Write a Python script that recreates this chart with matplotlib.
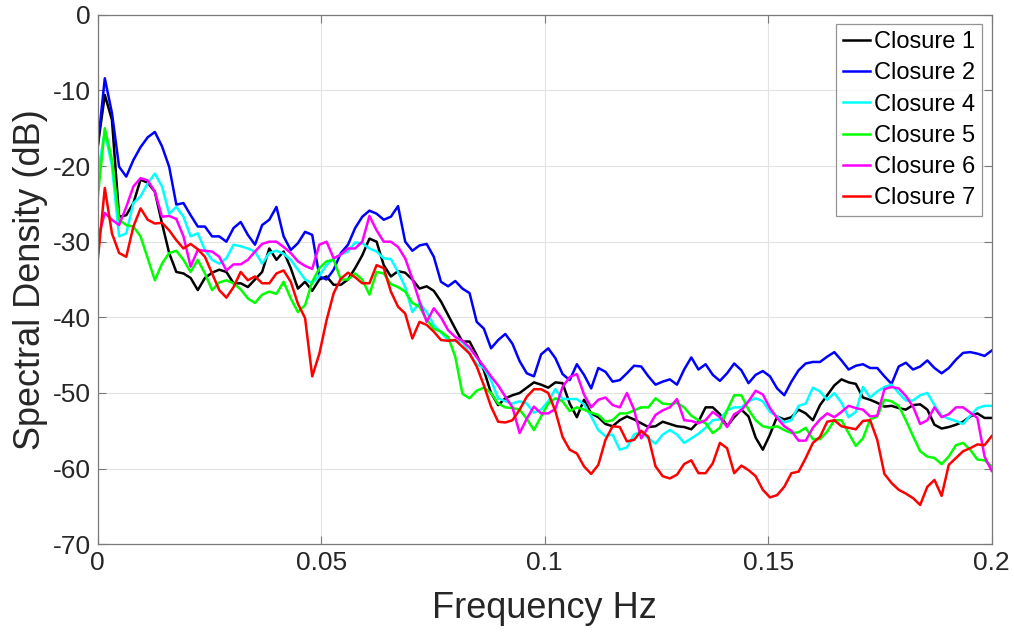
import numpy as np
import matplotlib
matplotlib.use("Agg")
import matplotlib.pyplot as plt

plt.rcParams['font.family'] = ['Liberation Sans', 'DejaVu Sans']
plt.rcParams['axes.unicode_minus'] = False

# frequency axis: 126 bins from 0 to 0.2 Hz
freq = np.linspace(0, 0.2, 126)

closure1 = [-17.5, -10.6, -13.9, -26.7, -26.5, -24.9, -21.8, -22.2, -23.4, -27.6, -31.5, -34.0, -34.2, -34.8, -36.4, -34.8, -34.1, -33.7, -34.0, -35.5, -35.5,
            -36.0, -35.0, -34.0, -30.9, -32.4, -31.3, -33.5, -36.2, -35.3, -36.5, -35.0, -34.6, -35.7, -35.7, -35.0, -33.5, -31.8, -29.6, -30.0, -33.1, -34.6, -33.9,
            -34.1, -35.0, -36.2, -35.9, -36.5, -37.9, -39.7, -41.5, -43.2, -43.2, -45.0, -47.0, -50.0, -51.6, -50.7, -50.3, -50.0, -49.3, -48.6, -48.9, -49.3, -48.6, -48.7,
            -51.4, -53.2, -50.9, -52.7, -53.2, -54.1, -54.4, -53.6, -53.1, -53.5, -54.0, -54.5, -54.4, -53.8, -54.1, -54.4, -54.5, -54.8,
            -53.8, -51.9, -51.9, -52.8, -54.4, -53.2, -52.2, -53.1, -55.9, -57.5, -55.5, -53.1, -53.5, -53.2, -52.2, -52.7, -53.6, -51.6, -50.3, -49.0, -48.2,
            -48.6, -48.8, -50.6, -50.9, -51.3, -51.8, -51.7, -52.0, -52.2, -51.6, -51.5, -52.2, -54.2, -54.7, -54.5, -54.2, -53.8, -53.1, -52.7, -53.3, -53.3]

closure2 = [-17.5, -8.4, -13.0, -20.1, -21.4, -19.2, -17.5, -16.2, -15.5, -17.4, -20.1, -25.1, -24.9, -26.5, -28.0, -28.0, -29.3, -29.3, -30.0, -28.2, -27.4,
            -29.1, -30.4, -27.8, -27.1, -25.4, -29.3, -31.1, -30.2, -28.7, -29.1, -34.6, -35.0, -33.7, -31.5, -30.4, -28.2, -26.7, -25.9, -26.3, -27.1, -26.7, -25.3,
            -30.0, -31.2, -30.5, -30.3, -32.0, -35.3, -35.9, -35.2, -36.2, -36.8, -40.6, -41.5, -44.1, -43.0, -42.2, -43.5, -45.8, -47.4, -47.8, -44.9, -44.1, -45.4, -47.5,
            -48.3, -46.2, -47.6, -49.4, -46.7, -47.2, -48.5, -48.3, -47.4, -46.4, -46.5, -47.8, -48.9, -48.5, -48.2, -48.9, -46.9, -45.3,
            -46.9, -46.2, -47.6, -48.4, -47.4, -46.1, -47.0, -48.7, -47.6, -47.1, -47.8, -49.4, -50.3, -48.5, -47.0, -46.1, -45.9, -45.9, -45.2, -44.6, -45.7,
            -46.9, -46.4, -46.2, -46.7, -46.7, -47.8, -48.8, -46.5, -46.0, -46.9, -46.5, -45.7, -46.7, -47.4, -46.7, -45.6, -44.7, -44.6, -44.8, -45.1, -44.4]

closure4 = [-21.0, -15.5, -20.0, -29.3, -28.9, -24.9, -24.0, -22.3, -21.0, -22.7, -26.3, -25.4, -26.7, -29.3, -28.9, -31.1, -32.4, -32.9, -32.2, -30.4, -30.6,
            -30.9, -31.3, -32.9, -31.5, -31.2, -31.6, -32.4, -33.7, -35.0, -35.5, -34.5, -33.1, -32.2, -31.7, -31.3, -30.1, -30.2, -30.9, -31.3, -32.2, -32.3, -34.0,
            -36.0, -39.3, -38.1, -39.3, -41.0, -42.0, -43.0, -43.1, -43.2, -44.8, -46.2, -46.7, -48.3, -50.7, -51.1, -51.4, -51.1, -51.4, -52.6, -52.2, -51.1, -49.5, -50.8,
            -50.8, -50.8, -51.5, -53.1, -54.9, -55.7, -55.5, -57.5, -57.2, -55.5, -55.1, -56.0, -56.7, -55.5, -54.9, -55.5, -56.6, -56.0,
            -55.4, -54.6, -53.6, -53.5, -52.3, -51.9, -51.9, -51.1, -50.7, -51.1, -52.5, -53.1, -53.9, -53.6, -51.7, -51.4, -49.3, -49.8, -50.9, -50.0, -51.3,
            -53.2, -52.5, -49.2, -50.6, -49.8, -49.2, -48.9, -50.0, -51.0, -51.0, -50.3, -50.0, -51.6, -53.0, -53.4, -53.7, -54.1, -53.0, -52.0, -51.7, -51.7]

closure5 = [-24.3, -15.0, -19.2, -27.1, -27.8, -28.0, -29.3, -32.2, -35.1, -32.9, -31.5, -31.2, -32.4, -34.0, -32.4, -34.2, -36.4, -35.4, -35.1, -35.5, -36.3,
            -37.5, -38.1, -37.0, -36.6, -36.9, -35.3, -37.5, -39.3, -38.4, -35.3, -33.5, -32.6, -32.4, -35.0, -35.0, -34.2, -35.0, -37.0, -34.0, -34.2, -35.6, -36.0,
            -36.6, -38.1, -38.6, -40.3, -41.5, -41.9, -42.6, -45.2, -50.1, -50.7, -49.7, -49.3, -50.0, -51.4, -51.9, -52.0, -52.2, -53.4, -54.9, -53.1, -51.4, -50.7, -51.1,
            -52.4, -51.9, -52.2, -52.6, -52.9, -53.8, -53.6, -52.7, -52.7, -52.3, -51.9, -51.9, -50.7, -51.4, -51.5, -51.3, -51.9, -53.0,
            -53.6, -54.0, -55.3, -54.6, -52.3, -50.3, -50.3, -52.2, -53.6, -54.4, -54.6, -54.4, -54.9, -55.3, -55.2, -54.6, -56.1, -56.1, -55.1, -53.6, -53.6,
            -55.3, -57.0, -56.0, -53.5, -53.1, -50.9, -51.1, -51.7, -53.6, -55.7, -57.7, -58.4, -58.6, -59.4, -58.4, -56.9, -56.6, -57.5, -58.8, -58.9, -59.7]

closure6 = [-29.8, -26.2, -27.1, -27.8, -25.4, -22.7, -21.6, -21.9, -23.4, -26.7, -26.6, -27.0, -29.3, -33.3, -31.1, -31.2, -31.3, -32.0, -33.8, -33.0, -33.0,
            -32.4, -31.3, -30.3, -30.0, -30.0, -30.7, -31.5, -32.6, -33.2, -33.6, -30.4, -30.0, -32.2, -31.7, -30.9, -30.9, -30.0, -26.6, -28.5, -30.0, -30.0, -30.7,
            -32.2, -34.9, -37.9, -40.6, -38.8, -40.0, -41.7, -42.6, -43.1, -44.0, -45.3, -46.5, -47.8, -49.0, -50.5, -51.9, -55.3, -53.4, -51.8, -52.7, -52.7, -52.1, -49.2,
            -47.9, -47.5, -50.2, -51.9, -50.9, -50.6, -51.6, -51.9, -50.0, -52.2, -56.0, -54.5, -52.9, -52.3, -51.9, -50.8, -53.6, -53.7,
            -54.0, -53.6, -52.5, -53.2, -54.5, -52.8, -52.3, -51.1, -49.7, -50.2, -52.0, -53.3, -54.4, -55.0, -56.3, -56.3, -54.6, -53.5, -52.7, -53.2, -52.5,
            -51.7, -52.0, -52.2, -53.1, -53.0, -49.5, -49.2, -49.4, -50.4, -51.8, -54.1, -53.6, -51.9, -53.2, -52.8, -51.9, -51.9, -52.6, -53.3, -58.4, -60.3]

closure7 = [-32.6, -22.9, -28.9, -31.5, -32.0, -28.0, -25.6, -27.1, -27.6, -27.5, -28.5, -29.8, -30.9, -30.3, -31.0, -32.0, -34.2, -36.4, -37.4, -36.0, -34.0,
            -35.1, -34.6, -35.5, -35.5, -34.2, -33.8, -35.3, -38.2, -40.1, -47.8, -44.8, -40.4, -36.8, -34.9, -34.1, -34.7, -35.5, -35.5, -33.1, -33.5, -36.6, -38.6,
            -39.5, -42.8, -40.6, -41.0, -41.9, -43.0, -43.1, -43.0, -43.9, -44.8, -46.5, -49.0, -51.8, -53.8, -53.9, -53.6, -52.2, -50.5, -49.5, -49.5, -50.0, -52.4, -55.8,
            -57.5, -58.0, -59.7, -60.7, -59.5, -56.2, -54.4, -54.5, -56.4, -56.2, -55.0, -55.8, -59.7, -61.0, -61.3, -60.8, -59.4, -58.9,
            -60.6, -60.6, -59.3, -56.6, -57.3, -60.6, -59.6, -60.2, -61.0, -62.8, -63.8, -63.5, -62.4, -60.6, -60.4, -58.6, -56.6, -55.8, -53.8, -53.6, -54.4,
            -54.6, -54.8, -53.7, -53.6, -56.2, -60.7, -61.9, -62.8, -63.3, -63.9, -64.8, -62.4, -61.5, -63.6, -59.5, -58.6, -57.7, -57.3, -56.8, -56.9, -55.7]

series = [closure1, closure2, closure4, closure5, closure6, closure7]
labels = ['Closure 1', 'Closure 2', 'Closure 4', 'Closure 5', 'Closure 6', 'Closure 7']
colors = ['k', '#0000ff', '#00ffff', '#00ff00', '#ff00ff', '#ff0000']

xticks = [0, 0.05, 0.1, 0.15, 0.2]
xticklabels = ['0', '0.05', '0.1', '0.15', '0.2']
yticks = [0, -10, -20, -30, -40, -50, -60, -70]

fig = plt.figure(figsize=(10.14, 6.32), dpi=100)
ax = fig.add_axes([0.0963, 0.1388, 0.8817, 0.8379])

for vals, lab, col in zip(series, labels, colors):
    ax.plot(freq, vals, color=col, lw=1.8, label=lab)

ax.set_xlim(0, 0.2)
ax.set_ylim(-70, 0)
ax.set_xticks(xticks, xticklabels)
ax.set_yticks(yticks)
ax.grid(True, color='#e3e3e3', lw=0.8)
ax.set_axisbelow(True)

for sp in ax.spines.values():
    sp.set_color('#7a7a7a')
    sp.set_linewidth(0.9)
ax.tick_params(direction='in', length=6, width=0.8, color='#7a7a7a',
               labelcolor='#262626', labelsize=19, top=True, right=True, pad=5)

ax.set_xlabel('Frequency Hz', fontsize=26, color='#262626', labelpad=11)
ax.set_ylabel('Spectral Density (dB)', fontsize=26, color='#262626', labelpad=3)

leg = ax.legend(loc='upper right', fontsize=17, frameon=True, fancybox=False,
                handlelength=1.15, handletextpad=0.15, labelspacing=0.39,
                borderpad=0.3, borderaxespad=0.4)
leg.get_frame().set_edgecolor('#7a7a7a')
leg.get_frame().set_linewidth(0.9)

fig.savefig('out.png', dpi=100)
